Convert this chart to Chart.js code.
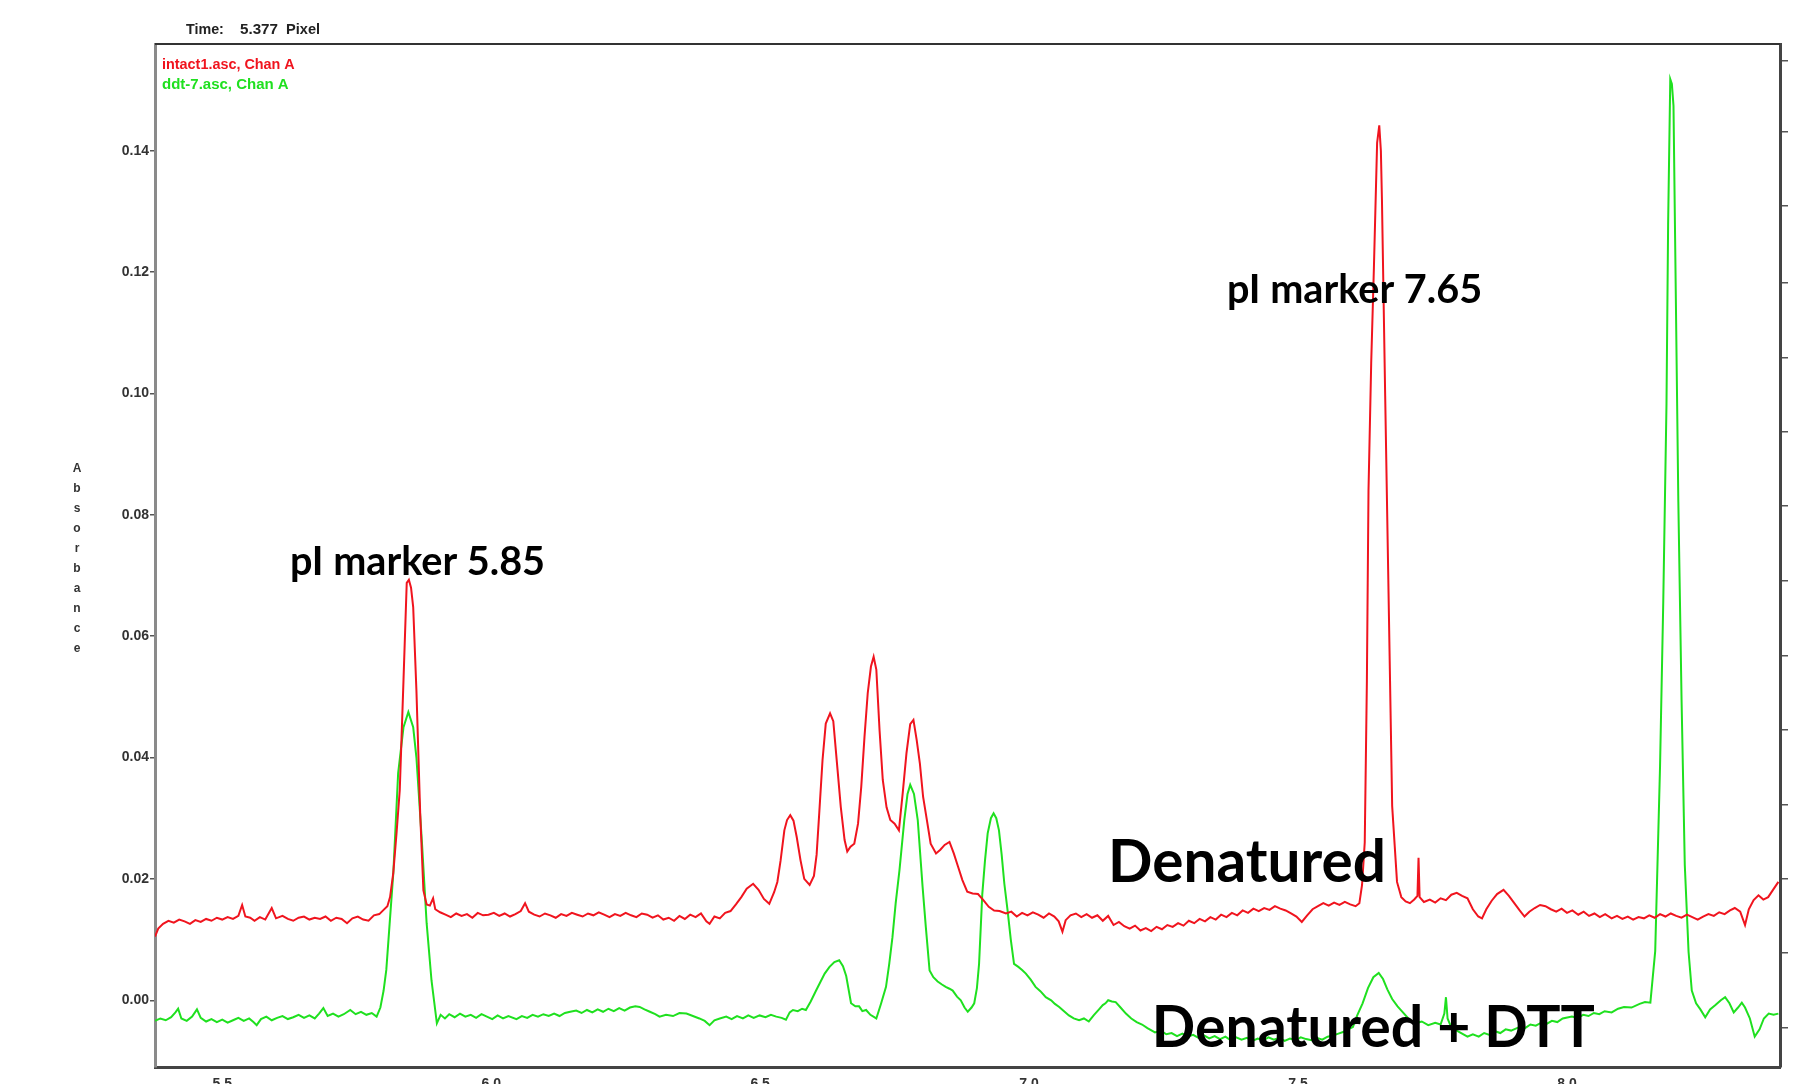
<!DOCTYPE html>
<html>
<head>
<meta charset="utf-8">
<script src="https://cdn.jsdelivr.net/npm/chart.js@4.4.1/dist/chart.umd.min.js"></script>
<style>
  html, body { margin: 0; padding: 0; background: #fff; overflow: hidden; }
  canvas { display: block; }
</style>
</head>
<body>
<canvas id="myChart" width="1817" height="1100"></canvas>
<script>
// axis ticks
var xTicks = [5.5, 6.0, 6.5, 7.0, 7.5, 8.0];
var yTicks = [0, 0.02, 0.04, 0.06, 0.08, 0.10, 0.12, 0.14];
// unlabelled marks on the right frame
var rightTicks = [0.1548, 0.1431, 0.1309, 0.1182, 0.1059, 0.0937, 0.0815, 0.0691, 0.0567, 0.0445, 0.0323, 0.0200, 0.0079, -0.0045];

var legendNames = ["intact1.asc, Chan A", "ddt-7.asc, Chan A"];

// [pI, absorbance]
var intactTrace = [
  [5.375,0.0105],[5.381,0.0118],[5.390,0.0126],[5.400,0.0131],[5.410,0.0128],[5.420,0.0133],[5.430,0.0130],[5.440,0.0126],
  [5.450,0.0132],[5.460,0.0129],[5.470,0.0134],[5.480,0.0131],[5.490,0.0136],[5.500,0.0133],[5.510,0.0137],[5.520,0.0134],
  [5.530,0.0139],[5.537,0.0157],[5.543,0.0138],[5.552,0.0136],[5.560,0.0131],[5.570,0.0137],[5.580,0.0133],[5.592,0.0152],
  [5.600,0.0135],[5.612,0.0139],[5.622,0.0134],[5.632,0.0131],[5.642,0.0136],[5.652,0.0138],[5.662,0.0133],[5.672,0.0136],
  [5.682,0.0134],[5.692,0.0138],[5.702,0.0131],[5.712,0.0136],[5.722,0.0134],[5.732,0.0127],[5.742,0.0135],[5.752,0.0138],
  [5.762,0.0133],[5.772,0.0131],[5.782,0.0140],[5.792,0.0142],[5.800,0.0149],[5.807,0.0155],[5.812,0.0170],[5.818,0.0210],
  [5.824,0.0275],[5.830,0.0346],[5.837,0.0528],[5.843,0.0688],[5.847,0.0693],[5.851,0.0680],[5.855,0.0648],[5.861,0.0511],
  [5.868,0.0308],[5.874,0.0181],[5.880,0.0158],[5.886,0.0156],[5.892,0.0168],[5.896,0.0150],[5.905,0.0145],[5.915,0.0141],
  [5.925,0.0137],[5.935,0.0143],[5.945,0.0139],[5.955,0.0142],[5.965,0.0136],[5.975,0.0144],[5.985,0.0140],[5.995,0.0141],
  [6.005,0.0144],[6.015,0.0139],[6.025,0.0143],[6.035,0.0138],[6.045,0.0142],[6.055,0.0147],[6.063,0.0160],[6.070,0.0146],
  [6.080,0.0141],[6.090,0.0138],[6.100,0.0143],[6.110,0.0140],[6.120,0.0136],[6.130,0.0142],[6.140,0.0139],[6.150,0.0144],
  [6.160,0.0141],[6.170,0.0138],[6.180,0.0143],[6.190,0.0140],[6.200,0.0145],[6.210,0.0141],[6.220,0.0137],[6.230,0.0142],
  [6.240,0.0139],[6.250,0.0144],[6.260,0.0140],[6.270,0.0137],[6.280,0.0143],[6.290,0.0141],[6.300,0.0136],[6.310,0.0140],
  [6.320,0.0133],[6.330,0.0136],[6.340,0.0131],[6.350,0.0139],[6.360,0.0134],[6.370,0.0141],[6.380,0.0137],[6.390,0.0143],
  [6.400,0.0130],[6.406,0.0126],[6.415,0.0138],[6.425,0.0135],[6.435,0.0144],[6.445,0.0147],[6.455,0.0158],[6.465,0.0170],
  [6.475,0.0184],[6.487,0.0192],[6.497,0.0182],[6.507,0.0167],[6.517,0.0159],[6.526,0.0178],[6.532,0.0195],[6.538,0.0230],
  [6.545,0.0280],[6.550,0.0297],[6.556,0.0305],[6.562,0.0296],[6.568,0.0269],[6.575,0.0231],[6.582,0.0200],[6.592,0.0190],
  [6.600,0.0205],[6.605,0.0240],[6.610,0.0310],[6.616,0.0396],[6.622,0.0456],[6.630,0.0473],[6.636,0.0460],[6.644,0.0379],
  [6.650,0.0318],[6.657,0.0264],[6.662,0.0245],[6.668,0.0253],[6.675,0.0258],[6.682,0.0291],[6.688,0.0352],[6.694,0.0434],
  [6.700,0.0506],[6.706,0.0550],[6.711,0.0566],[6.716,0.0545],[6.722,0.0445],[6.728,0.0363],[6.735,0.0318],[6.742,0.0297],
  [6.750,0.0291],[6.758,0.0280],[6.765,0.0341],[6.772,0.0407],[6.779,0.0455],[6.785,0.0462],[6.791,0.0429],[6.797,0.0390],
  [6.803,0.0335],[6.810,0.0297],[6.817,0.0258],[6.827,0.0242],[6.835,0.0248],[6.843,0.0256],[6.852,0.0261],[6.860,0.0242],
  [6.868,0.0220],[6.876,0.0198],[6.885,0.0179],[6.895,0.0176],[6.905,0.0175],[6.915,0.0165],[6.925,0.0154],[6.935,0.0148],
  [6.945,0.0147],[6.957,0.0143],[6.967,0.0146],[6.977,0.0138],[6.987,0.0144],[6.997,0.0140],[7.007,0.0145],[7.017,0.0141],
  [7.027,0.0136],[7.037,0.0143],[7.047,0.0138],[7.055,0.0130],[7.062,0.0113],[7.068,0.0132],[7.077,0.0140],[7.087,0.0143],
  [7.097,0.0137],[7.107,0.0142],[7.117,0.0136],[7.127,0.0140],[7.137,0.0131],[7.147,0.0139],[7.157,0.0124],[7.167,0.0129],
  [7.177,0.0122],[7.187,0.0118],[7.197,0.0123],[7.207,0.0115],[7.217,0.0119],[7.227,0.0114],[7.237,0.0121],[7.247,0.0117],
  [7.257,0.0124],[7.267,0.0121],[7.277,0.0127],[7.287,0.0123],[7.297,0.0131],[7.307,0.0127],[7.317,0.0134],[7.327,0.0130],
  [7.337,0.0137],[7.347,0.0133],[7.357,0.0141],[7.367,0.0137],[7.377,0.0144],[7.387,0.0140],[7.397,0.0148],[7.407,0.0144],
  [7.417,0.0151],[7.427,0.0147],[7.437,0.0152],[7.447,0.0149],[7.457,0.0155],[7.467,0.0151],[7.477,0.0148],[7.487,0.0143],
  [7.497,0.0138],[7.507,0.0129],[7.517,0.0140],[7.527,0.0150],[7.537,0.0155],[7.547,0.0160],[7.557,0.0156],[7.567,0.0161],
  [7.577,0.0157],[7.587,0.0162],[7.597,0.0158],[7.607,0.0155],[7.614,0.0160],[7.619,0.0190],[7.624,0.0260],[7.628,0.0527],
  [7.631,0.0841],[7.636,0.1050],[7.641,0.1206],[7.647,0.1413],[7.651,0.1442],[7.654,0.1400],[7.656,0.1319],[7.662,0.0996],
  [7.669,0.0632],[7.675,0.0320],[7.684,0.0195],[7.692,0.0170],[7.700,0.0163],[7.708,0.0160],[7.716,0.0166],[7.722,0.0172],
  [7.724,0.0235],[7.726,0.0170],[7.734,0.0162],[7.745,0.0166],[7.755,0.0161],[7.765,0.0168],[7.775,0.0165],[7.785,0.0174],
  [7.795,0.0177],[7.805,0.0172],[7.815,0.0168],[7.825,0.0150],[7.835,0.0138],[7.842,0.0135],[7.850,0.0150],[7.860,0.0164],
  [7.870,0.0175],[7.882,0.0182],[7.892,0.0172],[7.902,0.0160],[7.912,0.0148],[7.921,0.0138],[7.930,0.0146],[7.940,0.0152],
  [7.950,0.0157],[7.960,0.0155],[7.970,0.0150],[7.980,0.0146],[7.990,0.0151],[8.000,0.0144],[8.010,0.0148],[8.021,0.0141],
  [8.031,0.0146],[8.041,0.0139],[8.051,0.0143],[8.061,0.0137],[8.071,0.0142],[8.083,0.0135],[8.093,0.0139],[8.103,0.0134],
  [8.113,0.0138],[8.123,0.0133],[8.133,0.0137],[8.143,0.0135],[8.153,0.0140],[8.163,0.0136],[8.173,0.0142],[8.183,0.0138],
  [8.193,0.0143],[8.203,0.0139],[8.213,0.0136],[8.223,0.0141],[8.233,0.0137],[8.243,0.0133],[8.253,0.0138],[8.263,0.0142],
  [8.273,0.0139],[8.283,0.0145],[8.293,0.0142],[8.303,0.0148],[8.312,0.0152],[8.322,0.0146],[8.331,0.0124],[8.338,0.0150],
  [8.347,0.0165],[8.356,0.0173],[8.365,0.0166],[8.374,0.0170],[8.383,0.0182],[8.393,0.0195]
];

var dttTrace = [
  [5.375,-0.0034],[5.385,-0.0030],[5.395,-0.0033],[5.405,-0.0028],[5.413,-0.0020],[5.418,-0.0014],[5.424,-0.0030],[5.434,-0.0034],
  [5.444,-0.0027],[5.453,-0.0015],[5.460,-0.0029],[5.470,-0.0035],[5.480,-0.0031],[5.490,-0.0036],[5.500,-0.0032],[5.510,-0.0037],
  [5.520,-0.0033],[5.530,-0.0029],[5.540,-0.0034],[5.550,-0.0030],[5.558,-0.0036],[5.564,-0.0041],[5.572,-0.0031],[5.582,-0.0027],
  [5.592,-0.0033],[5.602,-0.0029],[5.612,-0.0026],[5.622,-0.0031],[5.632,-0.0028],[5.642,-0.0024],[5.652,-0.0029],[5.662,-0.0025],
  [5.672,-0.0030],[5.680,-0.0022],[5.688,-0.0013],[5.696,-0.0026],[5.706,-0.0022],[5.716,-0.0027],[5.726,-0.0023],[5.738,-0.0016],
  [5.748,-0.0023],[5.758,-0.0019],[5.768,-0.0024],[5.778,-0.0021],[5.787,-0.0027],[5.794,-0.0012],[5.800,0.0016],[5.805,0.0050],
  [5.809,0.0099],[5.818,0.0209],[5.827,0.0374],[5.837,0.0450],[5.846,0.0475],[5.855,0.0450],[5.861,0.0400],[5.871,0.0264],
  [5.880,0.0127],[5.889,0.0033],[5.899,-0.0038],[5.906,-0.0024],[5.914,-0.0030],[5.922,-0.0023],[5.932,-0.0028],[5.942,-0.0022],
  [5.952,-0.0027],[5.962,-0.0024],[5.972,-0.0029],[5.982,-0.0023],[5.992,-0.0027],[6.002,-0.0031],[6.012,-0.0025],[6.022,-0.0030],
  [6.032,-0.0026],[6.047,-0.0031],[6.057,-0.0026],[6.067,-0.0029],[6.077,-0.0024],[6.087,-0.0027],[6.097,-0.0023],[6.107,-0.0026],
  [6.117,-0.0022],[6.127,-0.0026],[6.137,-0.0021],[6.147,-0.0019],[6.158,-0.0017],[6.168,-0.0021],[6.178,-0.0016],[6.188,-0.0020],
  [6.198,-0.0015],[6.208,-0.0019],[6.218,-0.0014],[6.228,-0.0018],[6.238,-0.0013],[6.248,-0.0017],[6.258,-0.0012],[6.268,-0.0010],
  [6.276,-0.0011],[6.285,-0.0015],[6.295,-0.0019],[6.305,-0.0023],[6.313,-0.0027],[6.325,-0.0024],[6.338,-0.0026],[6.350,-0.0021],
  [6.363,-0.0022],[6.375,-0.0026],[6.387,-0.0030],[6.397,-0.0034],[6.406,-0.0041],[6.415,-0.0033],[6.425,-0.0030],[6.437,-0.0027],
  [6.447,-0.0031],[6.457,-0.0026],[6.468,-0.0030],[6.478,-0.0025],[6.488,-0.0029],[6.499,-0.0025],[6.510,-0.0028],[6.520,-0.0024],
  [6.530,-0.0027],[6.540,-0.0029],[6.548,-0.0032],[6.555,-0.0020],[6.561,-0.0016],[6.570,-0.0018],[6.578,-0.0014],[6.585,-0.0016],
  [6.594,-0.0002],[6.604,0.0016],[6.612,0.0030],[6.620,0.0044],[6.629,0.0055],[6.638,0.0063],[6.647,0.0066],[6.654,0.0056],
  [6.660,0.0040],[6.669,-0.0005],[6.677,-0.0010],[6.684,-0.0010],[6.690,-0.0018],[6.697,-0.0016],[6.705,-0.0024],[6.716,-0.0030],
  [6.725,-0.0005],[6.734,0.0022],[6.740,0.0060],[6.746,0.0104],[6.752,0.0160],[6.759,0.0214],[6.768,0.0297],[6.774,0.0340],
  [6.779,0.0355],[6.786,0.0340],[6.793,0.0297],[6.802,0.0187],[6.808,0.0121],[6.815,0.0049],[6.822,0.0038],[6.830,0.0031],
  [6.838,0.0026],[6.845,0.0022],[6.852,0.0019],[6.858,0.0016],[6.866,0.0006],[6.873,0.0000],[6.880,-0.0012],[6.886,-0.0019],
  [6.893,-0.0012],[6.898,-0.0005],[6.903,0.0020],[6.907,0.0060],[6.913,0.0175],[6.918,0.0230],[6.923,0.0275],[6.929,0.0300],
  [6.934,0.0308],[6.939,0.0300],[6.944,0.0280],[6.949,0.0240],[6.954,0.0192],[6.960,0.0148],[6.966,0.0100],[6.972,0.0060],
  [6.980,0.0055],[6.987,0.0050],[6.994,0.0044],[7.003,0.0034],[7.012,0.0022],[7.021,0.0015],[7.031,0.0005],[7.041,0.0000],
  [7.048,-0.0006],[7.056,-0.0011],[7.065,-0.0018],[7.074,-0.0025],[7.083,-0.0030],[7.093,-0.0033],[7.102,-0.0030],[7.111,-0.0035],
  [7.120,-0.0025],[7.130,-0.0015],[7.137,-0.0008],[7.142,-0.0005],[7.147,0.0000],[7.154,-0.0002],[7.161,-0.0003],[7.170,-0.0012],
  [7.180,-0.0022],[7.190,-0.0030],[7.200,-0.0036],[7.210,-0.0040],[7.220,-0.0046],[7.234,-0.0053],[7.245,-0.0050],[7.255,-0.0056],
  [7.265,-0.0054],[7.275,-0.0059],[7.285,-0.0055],[7.295,-0.0060],[7.305,-0.0057],[7.315,-0.0062],[7.325,-0.0058],[7.335,-0.0063],
  [7.345,-0.0059],[7.355,-0.0064],[7.365,-0.0060],[7.375,-0.0066],[7.385,-0.0061],[7.395,-0.0065],[7.405,-0.0062],[7.415,-0.0067],
  [7.425,-0.0063],[7.435,-0.0066],[7.445,-0.0061],[7.455,-0.0065],[7.465,-0.0062],[7.475,-0.0067],[7.485,-0.0063],[7.495,-0.0066],
  [7.505,-0.0061],[7.515,-0.0064],[7.525,-0.0066],[7.535,-0.0062],[7.545,-0.0065],[7.555,-0.0060],[7.565,-0.0058],[7.575,-0.0055],
  [7.585,-0.0052],[7.595,-0.0047],[7.602,-0.0044],[7.610,-0.0025],[7.620,-0.0005],[7.630,0.0020],[7.640,0.0038],[7.650,0.0045],
  [7.658,0.0035],[7.666,0.0018],[7.675,0.0002],[7.685,-0.0010],[7.695,-0.0020],[7.705,-0.0030],[7.718,-0.0038],[7.730,-0.0035],
  [7.742,-0.0041],[7.755,-0.0037],[7.765,-0.0040],[7.772,-0.0022],[7.775,0.0005],[7.778,-0.0030],[7.785,-0.0045],[7.795,-0.0050],
  [7.805,-0.0055],[7.815,-0.0060],[7.825,-0.0056],[7.836,-0.0060],[7.846,-0.0054],[7.856,-0.0057],[7.866,-0.0051],[7.876,-0.0054],
  [7.886,-0.0048],[7.896,-0.0050],[7.912,-0.0044],[7.922,-0.0046],[7.932,-0.0040],[7.942,-0.0042],[7.952,-0.0037],[7.962,-0.0039],
  [7.972,-0.0034],[7.982,-0.0036],[7.992,-0.0030],[8.009,-0.0027],[8.020,-0.0029],[8.030,-0.0024],[8.040,-0.0026],[8.050,-0.0021],
  [8.060,-0.0023],[8.070,-0.0018],[8.083,-0.0020],[8.095,-0.0014],[8.106,-0.0011],[8.120,-0.0012],[8.135,-0.0006],[8.145,-0.0003],
  [8.155,-0.0004],[8.164,0.0081],[8.173,0.0386],[8.179,0.0658],[8.185,0.0984],[8.188,0.1278],[8.192,0.1518],[8.195,0.1510],
  [8.198,0.1474],[8.201,0.1256],[8.207,0.0821],[8.213,0.0495],[8.219,0.0223],[8.226,0.0080],[8.232,0.0016],[8.240,-0.0005],
  [8.248,-0.0015],[8.257,-0.0028],[8.266,-0.0015],[8.276,-0.0008],[8.286,0.0000],[8.294,0.0005],[8.302,-0.0005],[8.310,-0.0020],
  [8.318,-0.0012],[8.325,-0.0004],[8.331,-0.0012],[8.340,-0.0030],[8.349,-0.0060],[8.358,-0.0048],[8.366,-0.0030],[8.375,-0.0022],
  [8.384,-0.0024],[8.393,-0.0022]
];

// text notes placed at data coordinates, fitted to a pixel width
var notes = [
  { text: "pI marker 5.85", x: 5.863, y: 0.0722, width: 255 },
  { text: "pI marker 7.65", x: 7.605, y: 0.1171, width: 255 },
  { text: "Denatured", x: 7.405, y: 0.0226, width: 278 },
  { text: "Denatured + DTT", x: 7.640, y: -0.0046, width: 443 }
];

var redColor = "#f0141e";
var greenColor = "#1fe01f";

function toPoints(arr) {
    return arr.map(function (p) { return { x: p[0], y: p[1] }; });
}

function fitText(ctx, text, x, y, width, weight, family) {
    ctx.font = weight + " 20px " + family;
    var size = 20 * width / ctx.measureText(text).width;
    ctx.font = weight + " " + size.toFixed(1) + "px " + family;
    ctx.fillText(text, x, y);
}

var textPlugin = {
    id: "texts",
    afterDraw: function (chart) {
        var ctx = chart.ctx;
        var area = chart.chartArea;
        var xs = chart.scales.x, ys = chart.scales.y;
        ctx.save();

        // frame top line
        ctx.strokeStyle = "#333";
        ctx.lineWidth = 2;
        ctx.beginPath();
        ctx.moveTo(area.left, area.top);
        ctx.lineTo(area.right, area.top);
        ctx.stroke();

        // header
        ctx.fillStyle = "#222";
        ctx.textBaseline = "alphabetic";
        ctx.textAlign = "left";
        fitText(ctx, "Time:", 186, 34, 38, "bold", "Arial");
        fitText(ctx, "5.377", 240, 34, 38, "bold", "Arial");
        fitText(ctx, "Pixel", 286, 34, 34, "bold", "Arial");

        // legend lines
        ctx.fillStyle = redColor;
        fitText(ctx, legendNames[0], 162, 69, 133, "bold", "Arial");
        ctx.fillStyle = greenColor;
        fitText(ctx, legendNames[1], 162, 89, 127, "bold", "Arial");

        // stacked axis title
        ctx.fillStyle = "#333";
        ctx.font = "bold 12px Arial";
        ctx.textAlign = "center";
        var title = "Absorbance";
        for (var i = 0; i < title.length; i++) {
            ctx.fillText(title[i], 77, 472 + i * 20);
        }

        // annotations
        ctx.fillStyle = "#000";
        ctx.textBaseline = "middle";
        notes.forEach(function (n) {
            fitText(ctx, n.text, xs.getPixelForValue(n.x), ys.getPixelForValue(n.y), n.width, "bold", "Lato");
        });
        ctx.restore();
    }
};

document.addEventListener("DOMContentLoaded", function () {
    var ctx = document.getElementById("myChart").getContext("2d");
    var myChart = new Chart(ctx, {
        type: "line",
        data: {
            datasets: [{
                label: legendNames[0],
                data: toPoints(intactTrace),
                borderColor: redColor,
                borderWidth: 2,
                pointRadius: 0,
                tension: 0
            },
            {
                label: legendNames[1],
                data: toPoints(dttTrace),
                borderColor: greenColor,
                borderWidth: 2,
                pointRadius: 0,
                tension: 0
            }]
        },
        options: {
            responsive: false,
            animation: false,
            layout: { padding: { top: 44, left: 0, right: 0, bottom: 0 } },
            plugins: {
                legend: { display: false },
                tooltip: { enabled: false },
                title: { display: false }
            },
            scales: {
                x: {
                    type: "linear",
                    min: 5.375,
                    max: 8.396,
                    afterBuildTicks: function (s) { s.ticks = xTicks.map(function (v) { return { value: v }; }); },
                    afterFit: function (s) { s.height = 33; },
                    ticks: {
                        autoSkip: false,
                        maxRotation: 0,
                        padding: 1,
                        color: "#333",
                        font: { family: "Arial", size: 14, weight: "bold" },
                        callback: function (v) { return v.toFixed(1); }
                    },
                    grid: { display: false },
                    border: { display: true, color: "#444", width: 3 }
                },
                y: {
                    min: -0.011,
                    max: 0.1576,
                    afterBuildTicks: function (s) { s.ticks = yTicks.map(function (v) { return { value: v }; }); },
                    afterFit: function (s) { s.width = 155; },
                    ticks: {
                        padding: 1,
                        color: "#333",
                        font: { family: "Arial", size: 14, weight: "bold" },
                        callback: function (v) { return v.toFixed(2); }
                    },
                    grid: { drawOnChartArea: false, drawTicks: true, tickLength: 5, color: "#555", lineWidth: 1.5 },
                    border: { display: true, color: "#8a8a8a", width: 3 }
                },
                y2: {
                    position: "right",
                    min: -0.011,
                    max: 0.1576,
                    afterBuildTicks: function (s) { s.ticks = rightTicks.map(function (v) { return { value: v }; }); },
                    afterFit: function (s) { s.width = 37; },
                    ticks: { display: false },
                    grid: { drawOnChartArea: false, drawTicks: true, tickLength: 8, color: "#555", lineWidth: 1.5 },
                    border: { display: true, color: "#444", width: 3 }
                }
            }
        },
        plugins: [textPlugin]
    });
});
</script>
</body>
</html>
